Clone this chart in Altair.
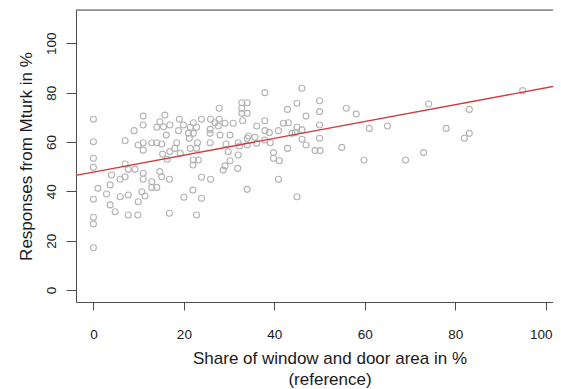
import altair as alt
import pandas as pd

# Share of window and door area in % (reference)
share_pct = [
    0.0, 11.0, 11.0, 9.0, 14.0, 0.0, 7.0, 9.9, 11.0, 12.9, 14.0, 11.0, 0.0, 0.0,
    7.0, 7.7, 9.2, 4.0, 11.0, 5.9, 7.0, 11.0, 12.9, 1.0, 3.7, 12.9, 14.0, 10.7,
    2.9, 0.0, 5.9, 7.7, 11.4, 9.9, 3.7, 4.8, 7.7, 9.8, 0.0, 0.0, 0.0,
    27.8, 32.8, 34.0, 32.8, 32.8, 34.0, 15.8, 19.0, 23.9, 25.9, 27.8, 14.7, 16.9,
    19.9, 22.1, 26.9, 29.1, 30.9, 33.0, 15.5, 18.8, 21.4, 22.8, 25.8, 27.6, 36.1,
    16.1, 21.0, 22.1, 25.8, 28.0, 30.2, 34.3, 21.2, 23.0, 25.8, 29.3, 32.0, 34.0,
    35.7, 15.1, 18.4, 18.0, 21.4, 22.8, 16.9, 19.2, 15.3, 29.8, 32.3, 34.0, 36.1,
    16.3, 22.1, 23.2, 32.0, 30.2, 29.1, 22.0, 28.7, 31.9, 14.7, 15.1, 16.8, 23.9,
    25.9, 34.0, 22.0, 20.0, 23.9, 16.8, 22.8,
    46.1, 37.9, 50.0, 45.0, 42.9, 50.0, 55.9, 47.0, 37.9, 42.0, 43.1, 45.0, 50.0,
    37.9, 38.9, 40.9, 43.9, 46.1, 44.6, 37.9, 39.1, 46.1, 50.0, 47.0, 42.9, 49.0,
    50.1, 54.9, 39.8, 39.8, 41.1, 40.9, 45.0,
    58.1, 74.1, 61.0, 65.0, 78.0, 59.8, 69.0, 73.0,
    94.9, 83.1, 82.0, 83.1,
]

# Responses from Mturk in %
mturk_pct = [
    69.2, 70.5, 66.9, 64.6, 66.0, 60.1, 60.5, 58.8, 59.7, 59.7, 59.7, 56.7, 53.4, 49.7,
    51.1, 48.9, 48.9, 46.6, 47.3, 44.9, 45.9, 44.9, 43.9, 41.2, 42.6, 41.6, 41.6, 39.8,
    38.9, 36.8, 37.8, 38.5, 38.1, 35.8, 34.5, 31.7, 30.4, 30.4, 29.5, 26.8, 17.1,
    73.7, 75.9, 75.9, 73.7, 71.6, 71.6, 70.9, 69.2, 69.2, 69.2, 69.2, 68.2, 66.9,
    66.9, 67.8, 67.8, 67.6, 67.6, 68.6, 66.2, 64.6, 66.0, 66.0, 65.1, 66.5, 66.5,
    62.8, 63.5, 63.5, 63.5, 62.8, 62.8, 62.4, 61.5, 59.7, 59.7, 59.2, 59.7, 61.5,
    61.9, 59.2, 59.7, 57.4, 57.4, 57.4, 56.1, 55.4, 55.1, 56.1, 58.4, 58.8, 59.5,
    53.0, 52.7, 52.7, 54.7, 52.4, 50.3, 50.7, 48.6, 49.3, 48.0, 45.9, 44.9, 45.7,
    44.9, 40.8, 40.5, 37.6, 37.2, 31.1, 30.4,
    81.8, 80.0, 76.7, 75.7, 73.2, 72.3, 73.7, 70.5, 68.6, 67.6, 67.8, 66.0, 66.9,
    64.6, 63.8, 64.6, 63.5, 64.9, 63.8, 60.8, 59.7, 61.1, 61.5, 58.8, 57.4, 56.5,
    56.5, 57.8, 55.7, 53.4, 52.4, 44.9, 37.8,
    71.3, 75.4, 65.5, 66.5, 65.5, 52.7, 52.7, 55.7,
    80.8, 73.2, 61.5, 63.5,
]

# fitted regression line (read at the plot edges)
line_x = [-3.85, 101.6]
line_y = [46.5, 82.5]

x_ticks = [0, 20, 40, 60, 80, 100]
y_ticks = [0, 20, 40, 60, 80, 100]
X_DOMAIN = [-3.85, 101.6]
Y_DOMAIN = [-4.86, 113.5]

FONT = "Liberation Sans"
AXC = "#4d4d4d"
TXT = "#1a1a1a"

pts = pd.DataFrame({"share": share_pct, "mturk": mturk_pct})
fit = pd.DataFrame({"share": line_x, "mturk": line_y})
top = pd.DataFrame({"x0": [X_DOMAIN[0]], "x1": [X_DOMAIN[1]], "y": [Y_DOMAIN[1]]})

xscale = alt.Scale(domain=X_DOMAIN, nice=False, zero=False)
yscale = alt.Scale(domain=Y_DOMAIN, nice=False, zero=False)

xaxis = alt.Axis(
    values=x_ticks, format="d", grid=False,
    title=["Share of window and door area in %", "(reference)"],
    tickSize=8, tickColor=AXC, domainColor=AXC,
    labelPadding=28, labelBaseline="alphabetic", labelAlign="center",
    labelOffset=alt.ExprRef(expr="datum.value == 100 ? -5 : 0"),
    labelFlush=False, labelOverlap=False,
    labelFont=FONT, labelFontSize=13.5, labelColor=TXT,
    titleFont=FONT, titleFontSize=17, titleFontWeight="normal", titleColor=TXT,
    titleX=253.5, titleY=61, titleAlign="center", titleBaseline="alphabetic",
    titleLineHeight=21.5,
)
yaxis = alt.Axis(
    values=y_ticks, format="d", grid=False,
    title="Responses from Mturk in %",
    tickSize=10, tickColor=AXC, domainColor=AXC,
    labelAngle=270, labelAlign="center", labelBaseline="alphabetic",
    labelPadding=10.5, labelFlush=False, labelOverlap=False,
    labelFont=FONT, labelFontSize=13.5, labelColor=TXT,
    titleFont=FONT, titleFontSize=17, titleFontWeight="normal", titleColor=TXT,
    titleAngle=270, titleX=-45, titleY=146, titleAlign="center",
    titleBaseline="alphabetic",
)

points = alt.Chart(pts).mark_point(
    shape="circle", filled=False, size=36, strokeWidth=1.1,
    color="#b3b3b3", opacity=1,
).encode(
    x=alt.X("share:Q", scale=xscale, axis=xaxis),
    y=alt.Y("mturk:Q", scale=yscale, axis=yaxis),
)

line = alt.Chart(fit).mark_line(color="#d23a3a", strokeWidth=1.3).encode(
    x=alt.X("share:Q", scale=xscale),
    y=alt.Y("mturk:Q", scale=yscale),
)

frame_top = alt.Chart(top).mark_rule(color=AXC, strokeWidth=1).encode(
    x=alt.X("x0:Q", scale=xscale),
    x2="x1:Q",
    y=alt.Y("y:Q", scale=yscale),
)

chart = alt.layer(points, line, frame_top).properties(
    width=477, height=292,
    padding={"left": 68, "top": 2, "right": 0, "bottom": 87},
    autosize=alt.AutoSizeParams(type="none"),
).configure_view(stroke=None).configure(background="white")

chart.save("out.html", embed_options={"renderer": "svg", "actions": False})
